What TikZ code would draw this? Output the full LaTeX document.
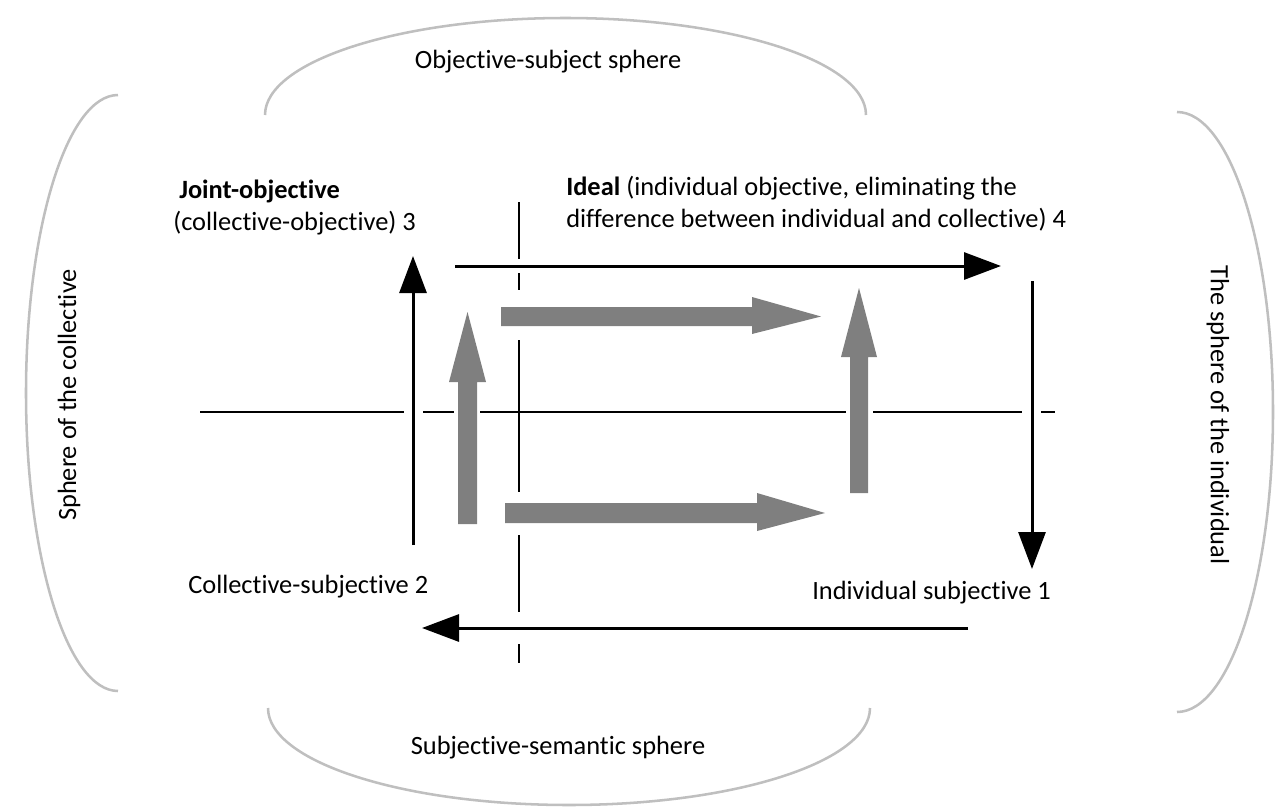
\documentclass[tikz,border=0pt]{standalone}
\usepackage{fontspec}
\setmainfont{Carlito}[Ligatures={NoCommon}]
\usetikzlibrary{arrows.meta}
\definecolor{arcgray}{RGB}{191,191,191}
\definecolor{blockgray}{RGB}{127,127,127}
\begin{document}
\begin{tikzpicture}[x=0.75pt,y=-0.75pt,
  lbl/.style={font=\fontsize{19.8}{24}\selectfont, inner sep=0pt, text=black},
  sphere/.style={draw=arcgray, line width=1.9pt},
  flow/.style={draw=black, line width=2.25pt, -{Triangle[length=27.75pt,width=20.25pt]}},
  axisline/.style={draw=black, line width=1.5pt},
  blockarrow/.style={fill=blockgray, draw=none}]
\useasboundingbox (0,0) rectangle (1275,810);

% outer spheres
\draw[sphere] (265,115) arc[start angle=180, end angle=360, x radius=300.5, y radius=97];
\draw[sphere] (268,708) arc[start angle=180, end angle=0, x radius=301, y radius=97];
\draw[sphere] (118,95) arc[start angle=270, end angle=90, x radius=92, y radius=298];
\draw[sphere] (1177,112) arc[start angle=-90, end angle=90, x radius=96, y radius=300];

% labels
\node[lbl] (top) at (548,62) {Objective-subject sphere};
\node[lbl] (bottom) at (558,748) {Subjective-semantic sphere};
\node[lbl, rotate=90] (left) at (69,395) {Sphere of the collective};
\node[lbl, rotate=-90] (right) at (1218,415) {The sphere of the individual};
\node[lbl, anchor=west, align=left] (joint) at (173,207)
  {\hspace{4.5pt}\textbf{Joint-objective}\\(collective-objective) 3};
\node[lbl, anchor=west, align=left] (ideal) at (566,204)
  {\textbf{Ideal} (individual objective, eliminating the\\difference between individual and collective) 4};
\node[lbl, anchor=west] (cs) at (188,587) {Collective-subjective 2};
\node[lbl, anchor=west] (is) at (812,593) {Individual subjective 1};

% axis lines (broken where arrows cross)
\foreach \a/\b in {200/404, 423/454, 480/846, 873/1022, 1041/1055}
  \draw[axisline] (\a,412) -- (\b,412);
\foreach \a/\b in {202/259, 273/290, 340/492, 535/612, 644/663}
  \draw[axisline] (519,\a) -- (519,\b);

% black cycle arrows
\coordinate (c2) at (413,545);
\coordinate (c3) at (413,256);
\coordinate (c3r) at (455,266);
\coordinate (c4) at (1001,266);
\coordinate (c4d) at (1032,281);
\coordinate (c1) at (1032,569);
\coordinate (c1l) at (968,628);
\coordinate (c2r) at (422,628);
\draw[flow] (c2) -- (c3);
\draw[flow] (c3r) -- (c4);
\draw[flow] (c4d) -- (c1);
\draw[flow] (c1l) -- (c2r);

% grey block arrows
\fill[blockarrow] (458,524) -- (477,524) -- (477,382) -- (486,382) -- (467.5,312) -- (449,382) -- (458,382) -- cycle;
\fill[blockarrow] (501,307) -- (752,307) -- (752,297) -- (821,316.5) -- (752,334) -- (752,326) -- (501,326) -- cycle;
\fill[blockarrow] (850,493) -- (868,493) -- (868,357) -- (877,357) -- (859,288) -- (841,357) -- (850,357) -- cycle;
\fill[blockarrow] (505,503) -- (757,503) -- (757,493) -- (825,513) -- (757,531) -- (757,523) -- (505,523) -- cycle;
\end{tikzpicture}
\end{document}
